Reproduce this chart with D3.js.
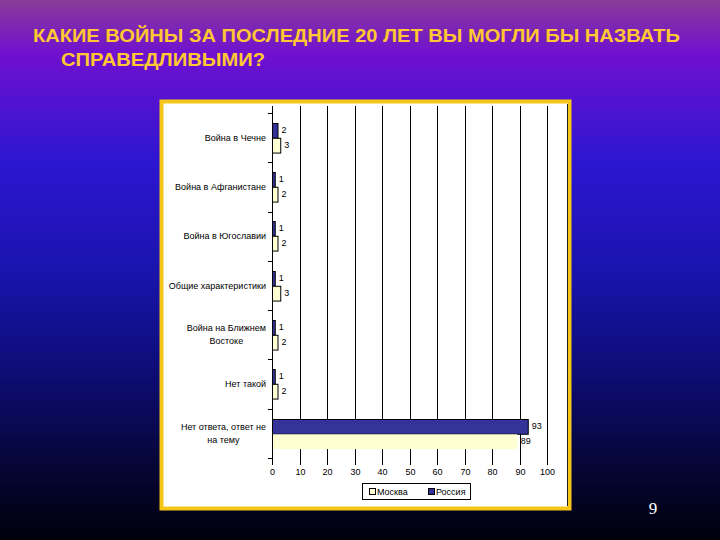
<!DOCTYPE html>
<html>
<head>
<meta charset="utf-8">
<script src="https://cdn.jsdelivr.net/npm/d3@7"></script>
<style>
  html, body { margin: 0; padding: 0; background: #000; }
  svg { display: block; }
</style>
</head>
<body>
<div id="slide"></div>
<script>
// chart data
var categories = [
    ['Война в Чечне'],
    ['Война в Афганистане'],
    ['Война в Югославии'],
    ['Общие характеристики'],
    ['Война на Ближнем', 'Востоке'],
    ['Нет такой'],
    ['Нет ответа, ответ не', 'на тему']
];
var russia = [2, 1, 1, 1, 1, 1, 93];
var moscow = [3, 2, 2, 3, 2, 2, 89];
var xTicks = [0, 10, 20, 30, 40, 50, 60, 70, 80, 90, 100];
var seriesNames = ['Москва', 'Россия'];

var W = 720, H = 540;
var svg = d3.select('#slide').append('svg')
    .attr('width', W)
    .attr('height', H);

// slide background
var grad = svg.append('defs').append('linearGradient')
    .attr('id', 'bg').attr('x1', 0).attr('y1', 0).attr('x2', 0).attr('y2', 1);
[[0, '#8a3c98'], [0.1, '#7010d0'], [0.3, '#2c16d0'], [0.5, '#1a14ae'],
 [0.7, '#0c0c72'], [0.85, '#06063a'], [1, '#00000c']].forEach(function(s) {
    grad.append('stop').attr('offset', s[0]).attr('stop-color', s[1]);
});
svg.append('rect').attr('width', W).attr('height', H).attr('fill', 'url(#bg)');

// title
function titleStyling(t) {
    t.style('font-family', "'Liberation Sans Narrow', 'Liberation Sans', Arial, sans-serif")
     .style('font-size', '19px')
     .style('font-weight', 700)
     .style('fill', '#ffc832');
}
svg.append('text').text('КАКИЕ ВОЙНЫ ЗА ПОСЛЕДНИЕ 20 ЛЕТ ВЫ МОГЛИ БЫ НАЗВАТЬ')
    .call(titleStyling)
    .attr('x', 33).attr('y', 42)
    .attr('textLength', 647).attr('lengthAdjust', 'spacingAndGlyphs');
svg.append('text').text('СПРАВЕДЛИВЫМИ?')
    .call(titleStyling)
    .attr('x', 61).attr('y', 66)
    .attr('textLength', 204).attr('lengthAdjust', 'spacingAndGlyphs');

// page number
svg.append('text').text('9')
    .attr('x', 653).attr('y', 514)
    .attr('text-anchor', 'middle')
    .style('font-family', "'Liberation Serif', serif")
    .style('font-size', '17px')
    .style('fill', '#ffffff');

// chart frame
svg.append('rect')
    .attr('x', 161.5).attr('y', 101.5).attr('width', 408).attr('height', 407)
    .attr('fill', '#ffffff')
    .attr('stroke', '#f5c518').attr('stroke-width', 4);
svg.append('line')
    .attr('x1', 567.5).attr('x2', 567.5).attr('y1', 104).attr('y2', 506)
    .attr('stroke', '#202020').attr('stroke-width', 1);

var margin = {top: 113, left: 272};
var width = 275, height = 345;
var chart = svg.append('g')
    .attr('transform', 'translate(' + margin.left + ',' + margin.top + ')');

var labelFont = "'Liberation Sans', Arial, sans-serif";

// scales
var xScale = d3.scaleLinear().domain([0, 100]).range([0, width]);
var yScale = d3.scaleBand()
    .domain(d3.range(categories.length))
    .range([0, height])
    .paddingInner(0.4)
    .paddingOuter(0.2);
var sub = d3.scaleBand()
    .domain([0, 1])
    .range([0, yScale.bandwidth()]);

// grid lines
function customXAxis(g) {
    g.call(xAxis);
    g.select('.domain').remove();
    g.selectAll('.tick').attr('transform', function(d) {
        return 'translate(' + (Math.round(xScale(d)) + 0.5) + ',0)';
    });
    g.selectAll('line').style('stroke', '#000').attr('y1', 7);
    g.selectAll('text')
        .style('font-family', labelFont)
        .style('font-size', '9px')
        .style('fill', '#000')
        .attr('dy', 0).attr('y', 17);
}
var xAxis = d3.axisBottom()
    .scale(xScale)
    .tickValues(xTicks)
    .tickSize(-height - 7)
    .tickFormat(d3.format('d'));
chart.append('g').attr('transform', 'translate(0,' + height + ')')
    .call(customXAxis);

// bars
var groups = chart.selectAll('g.cat')
    .data(categories)
    .enter()
    .append('g').classed('cat', true)
    .attr('transform', function(d, i) { return 'translate(0,' + Math.round(yScale(i)) + ')'; });

groups.append('rect')
    .attr('x', 0.5)
    .attr('y', sub(0) + 0.5)
    .attr('height', sub.bandwidth())
    .attr('width', function(d, i) { return xScale(russia[i]); })
    .style('fill', '#333399')
    .style('stroke', '#000')
    .style('stroke-width', 1);
groups.append('rect')
    .attr('x', 0.5)
    .attr('y', sub(1) + 0.5)
    .attr('height', sub.bandwidth())
    .attr('width', function(d, i) { return xScale(moscow[i]); })
    .style('fill', '#ffffd4')
    .style('stroke', function(d, i) { return moscow[i] > 50 ? 'none' : '#000'; })
    .style('stroke-width', 1);

// value labels
function valueStyling(t) {
    t.style('font-family', labelFont)
     .style('font-size', '9px')
     .style('fill', '#000')
     .attr('dominant-baseline', 'middle');
}
groups.append('text')
    .text(function(d, i) { return russia[i]; })
    .call(valueStyling)
    .attr('x', function(d, i) { return xScale(russia[i]) + 4; })
    .attr('y', sub(0) + sub.bandwidth() / 2);
groups.append('text')
    .text(function(d, i) { return moscow[i]; })
    .call(valueStyling)
    .attr('x', function(d, i) { return xScale(moscow[i]) + 4; })
    .attr('y', sub(1) + sub.bandwidth() / 2);

// category axis
chart.append('line')
    .attr('x1', 0.5).attr('x2', 0.5).attr('y1', 0).attr('y2', height)
    .style('stroke', '#000');
chart.selectAll('line.cat-tick')
    .data(d3.range(categories.length + 1))
    .enter()
    .append('line').classed('cat-tick', true)
    .attr('x1', -4).attr('x2', 0)
    .attr('y1', function(d) { return Math.round(d * height / categories.length) + 0.5; })
    .attr('y2', function(d) { return Math.round(d * height / categories.length) + 0.5; })
    .style('stroke', '#000');

// labels: block right-aligned to the axis, lines centred inside the block
var catLabels = chart.selectAll('text.cat-label')
    .data(categories)
    .enter()
    .append('text').classed('cat-label', true)
    .attr('text-anchor', 'middle')
    .style('font-family', labelFont)
    .style('font-size', '9px')
    .style('fill', '#000');
catLabels.selectAll('tspan')
    .data(function(d) { return d; })
    .enter()
    .append('tspan')
    .attr('x', 0)
    .attr('dy', function(d, j) { return j ? 13 : 0; })
    .text(function(d) { return d; });
catLabels.attr('transform', function(d, i) {
    var maxW = d3.max(d3.select(this).selectAll('tspan').nodes(), function(n) {
        return n.getComputedTextLength();
    });
    var cy = yScale(i) + yScale.bandwidth() / 2;
    return 'translate(' + (-6 - maxW / 2) + ',' + (cy - (d.length - 1) * 6.5 + 3) + ')';
});

// legend
var legend = svg.append('g').attr('transform', 'translate(362,483)');
legend.append('rect')
    .attr('x', 0.5).attr('y', 0.5).attr('width', 108).attr('height', 16)
    .style('fill', '#fff').style('stroke', '#000');
var legendX = [7, 66];
var legendFill = ['#ffffd4', '#333399'];
seriesNames.forEach(function(name, i) {
    legend.append('rect')
        .attr('x', legendX[i] + 0.5).attr('y', 5.5).attr('width', 6).attr('height', 6)
        .style('fill', legendFill[i]).style('stroke', '#000');
    legend.append('text').text(name)
        .attr('x', legendX[i] + 8).attr('y', 12)
        .style('font-family', labelFont)
        .style('font-size', '9px')
        .style('fill', '#000');
});
</script>
</body>
</html>
